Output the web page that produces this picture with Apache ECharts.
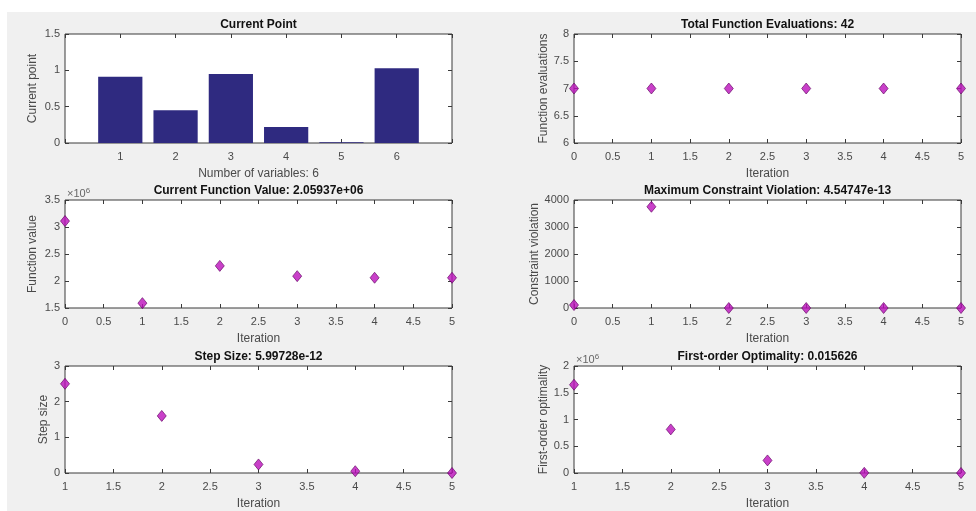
<!DOCTYPE html>
<html>
<head>
<meta charset="utf-8">
<script src="https://cdn.jsdelivr.net/npm/echarts@6/dist/echarts.min.js"></script>
<style>
  html, body { margin: 0; padding: 0; background: #fff; }
  #chart { width: 976px; height: 511px; }
</style>
</head>
<body>
<div id="chart"></div>
<script>
const varIndex = [1, 2, 3, 4, 5, 6]
const currentPoint = [0.91, 0.45, 0.95, 0.22, 0.01, 1.03]
const iterA = [0, 1, 2, 3, 4, 5]
const funcEvals = [7, 7, 7, 7, 7, 7]
const funcValues = [3110000, 1590000, 2280000, 2090000, 2060000, 2059370]
const constrViol = [110, 3750, 0, 0, 0, 4.54747e-13]
const iterB = [1, 2, 3, 4, 5]
const stepSizes = [2.5, 1.6, 0.24, 0.05, 5.99728e-12]
const optimality = [1650000, 815000, 235000, 3000, 0.015626]

const titles = [
  'Current Point',
  'Total Function Evaluations: 42',
  'Current Function Value: 2.05937e+06',
  'Maximum Constraint Violation: 4.54747e-13',
  'Step Size: 5.99728e-12',
  'First-order Optimality: 0.015626'
]

const FONT = 'Liberation Sans, Arial, sans-serif'
const LABEL = '#4a4a4a'
const LINE = '#3a3a3a'
const MARK = '#bb10bb'
const BAR = '#2f2a80'

// panel boxes [left, top, width, height]
const boxes = [
  [65, 34, 387, 109],
  [574, 34, 387, 109],
  [65, 200, 387, 108],
  [574, 200, 387, 108],
  [65, 366, 387, 108],
  [574, 366, 387, 108]
]

const grids = []
const xAxes = []
const yAxes = []
const titleList = []

// one panel = a grid with axes on all four sides, like MATLAB's box on
function addPanel (i, xr, yr, xName, yName, yGap, xFmt, yFmt) {
  const b = boxes[i]
  grids.push({
    left: b[0], top: b[1], width: b[2], height: b[3],
    show: true, backgroundColor: '#fff', borderColor: LINE, borderWidth: 1
  })
  titleList.push({
    text: titles[i],
    left: b[0] + b[2] / 2,
    top: b[1] - 15,
    textAlign: 'center',
    padding: 0,
    textStyle: { fontFamily: FONT, fontSize: 12, fontWeight: 'bold', color: '#111' }
  })
  const tickIn = { show: true, inside: true, length: 4, lineStyle: { color: LINE } }
  const tickOut = { show: true, inside: false, length: 4, lineStyle: { color: LINE } }
  const noLine = { show: false, onZero: false }
  xAxes.push({
    gridIndex: i, type: 'value', position: 'bottom',
    min: xr[0], max: xr[1], interval: xr[2],
    name: xName, nameLocation: 'middle', nameGap: 25,
    nameTextStyle: { fontFamily: FONT, fontSize: 12, color: LABEL },
    axisLine: noLine, axisTick: tickIn, splitLine: { show: false },
    axisLabel: { fontFamily: FONT, fontSize: 11, color: LABEL, margin: 8, formatter: xFmt }
  })
  xAxes.push({
    gridIndex: i, type: 'value', position: 'top',
    min: xr[0], max: xr[1], interval: xr[2],
    axisLine: noLine, axisTick: tickIn, splitLine: { show: false },
    axisLabel: { show: false }
  })
  // labelled left axis, ticks drawn by the helper axis below
  yAxes.push({
    gridIndex: i, type: 'value', position: 'left',
    min: yr[0], max: yr[1], interval: yr[2],
    name: yName, nameLocation: 'middle', nameGap: yGap,
    nameTextStyle: { fontFamily: FONT, fontSize: 12, color: LABEL },
    axisLine: noLine, axisTick: { show: false }, splitLine: { show: false },
    axisLabel: { fontFamily: FONT, fontSize: 11, color: LABEL, margin: 5, formatter: yFmt }
  })
  yAxes.push({
    gridIndex: i, type: 'value', position: 'right',
    min: yr[0], max: yr[1], interval: yr[2],
    axisLine: noLine, axisTick: tickIn, splitLine: { show: false },
    axisLabel: { show: false }
  })
  // right-side axis shifted onto the left edge so its ticks point into the box
  yAxes.push({
    gridIndex: i, type: 'value', position: 'right', offset: -b[2],
    min: yr[0], max: yr[1], interval: yr[2],
    axisLine: noLine, axisTick: tickOut, splitLine: { show: false },
    axisLabel: { show: false }
  })
}

const plain = v => String(v)
const mega = v => String(+(v / 1e6).toFixed(2))

addPanel(0, [0, 7, 1], [0, 1.5, 0.5], 'Number of variables: 6', 'Current point', 26,
  v => (v === 0 || v === 7) ? '' : String(v), plain)
addPanel(1, [0, 5, 0.5], [6, 8, 0.5], 'Iteration', 'Function evaluations', 21, plain, plain)
addPanel(2, [0, 5, 0.5], [1500000, 3500000, 500000], 'Iteration', 'Function value', 26, plain, mega)
addPanel(3, [0, 5, 0.5], [0, 4000, 1000], 'Iteration', 'Constraint violation', 32, plain, plain)
addPanel(4, [1, 5, 0.5], [0, 3, 1], 'Iteration', 'Step size', 15, plain, plain)
addPanel(5, [1, 5, 0.5], [0, 2000000, 500000], 'Iteration', 'First-order optimality', 23, plain, mega)

function pairs (xs, ys) {
  return xs.map((x, k) => [x, ys[k]])
}

function dots (i, xs, ys) {
  return {
    type: 'scatter',
    xAxisIndex: i * 2,
    yAxisIndex: i * 3,
    symbol: 'diamond',
    symbolSize: [9, 11],
    clip: false,
    itemStyle: { color: MARK, borderColor: '#5e005e', borderWidth: 0.8 },
    data: pairs(xs, ys),
    z: 5
  }
}

const series = [
  {
    type: 'bar',
    xAxisIndex: 0,
    yAxisIndex: 0,
    barWidth: '80%',
    itemStyle: { color: BAR },
    data: pairs(varIndex, currentPoint)
  },
  dots(1, iterA, funcEvals),
  dots(2, iterA, funcValues),
  dots(3, iterA, constrViol),
  dots(4, iterB, stepSizes),
  dots(5, iterB, optimality)
]

const expLabel = {
  rich: {
    a: { fontFamily: FONT, fontSize: 11, fill: '#666' },
    b: { fontFamily: FONT, fontSize: 8, fill: '#666', verticalAlign: 'top', padding: [0, 0, 6, 0] }
  }
}

const myEchart = echarts.init(document.getElementById('chart'), null, { renderer: 'canvas' })
myEchart.setOption({
  animation: false,
  backgroundColor: '#fff',
  textStyle: { fontFamily: FONT },
  title: titleList,
  graphic: [
    {
      type: 'rect', z: -10, silent: true,
      shape: { x: 7, y: 12, width: 969, height: 499 },
      style: { fill: '#f0f0f0' }
    },
    {
      type: 'text', left: 67, top: 187, z: 10,
      style: Object.assign({ text: '{a|×10}{b|6}' }, expLabel)
    },
    {
      type: 'text', left: 576, top: 353, z: 10,
      style: Object.assign({ text: '{a|×10}{b|6}' }, expLabel)
    }
  ],
  grid: grids,
  xAxis: xAxes,
  yAxis: yAxes,
  series: series
})
</script>
</body>
</html>
